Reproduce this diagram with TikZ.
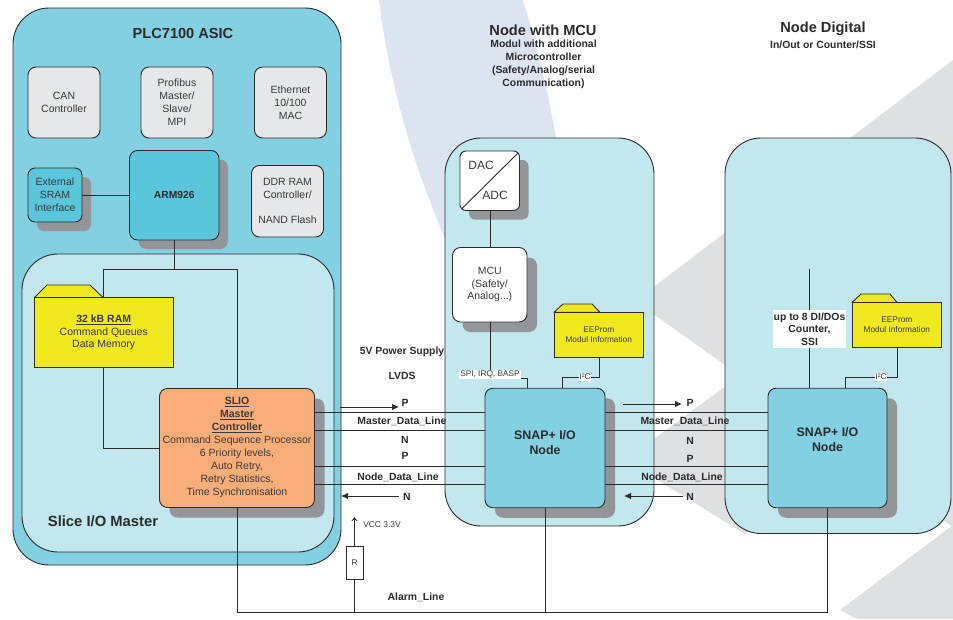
\documentclass[tikz,border=0pt]{standalone}
\usepackage{fontspec}
\setmainfont{Liberation Sans}
\usetikzlibrary{arrows.meta,shadows}
\definecolor{ink}{HTML}{2B2B2D}
\definecolor{txt}{HTML}{3A3A3C}
\definecolor{sgray}{HTML}{939598}
\definecolor{asicblue}{HTML}{82D0E2}
\definecolor{paleblue}{HTML}{C3E7EF}
\definecolor{armblue}{HTML}{5AC6DC}
\definecolor{lightgray}{HTML}{E6E7E8}
\definecolor{folderyellow}{HTML}{F1E920}
\definecolor{slioorange}{HTML}{F9AD78}
\definecolor{lavender}{HTML}{DCE4F2}
\definecolor{chevron}{HTML}{DFE0E2}
\tikzset{
  box/.style={draw=ink,line width=0.9pt,inner sep=0pt,align=center,text=txt},
  bigbox/.style={box,rounded corners=36pt},
  graybox/.style={box,fill=lightgray,rounded corners=8pt,minimum width=72pt,minimum height=71pt,
     font=\fontsize{10.5}{13}\selectfont},
  shade/.style={general shadow={fill=sgray,shadow xshift=#1,shadow yshift=-#1}},
  snapbox/.style={box,fill=asicblue,rounded corners=8pt,minimum height=119.5pt,shade=10pt,
     text=ink,font=\bfseries\fontsize{12.4}{15}\selectfont},
  folder/.style={box,fill=folderyellow},
  tab/.style={draw=ink,line width=0.9pt,fill=folderyellow,line join=round},
  wire/.style={draw=ink,line width=0.9pt},
  arrowline/.style={draw=ink,line width=0.9pt,-{Latex[length=7pt,width=6.5pt]}},
  lab/.style={text=ink,inner sep=0pt,font=\bfseries\fontsize{10.4}{11}\selectfont},
  whitelab/.style={fill=white,text=txt,inner sep=0.8pt,font=\fontsize{8.3}{9}\selectfont},
  title/.style={text=ink,inner sep=0pt,align=center,font=\bfseries\fontsize{14.6}{15}\selectfont},
  subtitle/.style={text=ink,inner sep=0pt,align=center,font=\bfseries\fontsize{10.4}{12.8}\selectfont},
}
\begin{document}
\begin{tikzpicture}[x=1pt,y=-1pt]
\useasboundingbox (0,0) rectangle (953,619);
% background shapes
\fill[lavender] (379,0) .. controls (390,90) and (415,170) .. (450,250) -- (580,250) -- (556,138) .. controls (548,90) and (535,40) .. (523,0) -- cycle;
\fill[chevron] (953,60) -- (635,301) -- (953,527) -- cycle;
\fill[chevron] (760,361) -- (625,460) -- (745,534) -- (800,480) -- cycle;
\fill[chevron] (953,525) -- (840,610) -- (857,619) -- (953,619) -- cycle;

% PLC7100 ASIC
\node[bigbox,fill=asicblue,minimum width=328pt,minimum height=557pt] (asic) at (177,286.5) {};
\node[title,font=\bfseries\fontsize{14.6}{16}\selectfont] (asictitle) at (183,33) {PLC7100 ASIC};
\node[graybox] (can) at (64,102.5) {CAN\\Controller};
\node[graybox] (profibus) at (177,102.5) {Profibus\\Master/\\Slave/\\MPI};
\node[graybox] (ethernet) at (290.5,102.5) {Ethernet\\10/100\\MAC};
\node[graybox,minimum height=71.5pt] (ddr) at (287.5,201.25) {DDR RAM\\Controller/\\[12pt]NAND Flash};
\node[box,fill=armblue,rounded corners=7pt,minimum width=54pt,minimum height=54pt,shade=9pt,
   font=\fontsize{10.5}{13}\selectfont] (sram) at (55,195) {External\\SRAM\\Interface};
\node[box,fill=armblue,rounded corners=8pt,minimum width=89.5pt,minimum height=89.5pt,shade=9pt,
   text=ink,font=\bfseries\fontsize{10.3}{12}\selectfont] (arm) at (174.25,195.25) {ARM926};

% Slice I/O Master
\node[bigbox,fill=paleblue,minimum width=312pt,minimum height=298pt] (slice) at (178,403) {};
\node[text=ink,inner sep=0pt,font=\bfseries\fontsize{14.8}{16}\selectfont] (slicetitle) at (103,521) {Slice I/O Master};
\draw[tab] (34.5,297.5) -- (47,285) -- (90,285) -- (103,297.5) -- cycle;
\node[folder,minimum width=138.5pt,minimum height=69.5pt] (ram) at (103.75,332.25) {};
\node[text=txt,inner sep=0pt,align=center,font=\fontsize{10.5}{12.6}\selectfont] (ramtext) at (103.75,332.5)
   {\textbf{\underline{32 kB RAM}}\\Command Queues\\Data Memory};
\node[box,fill=slioorange,rounded corners=8pt,minimum width=155pt,minimum height=119pt,shade=10pt] (slio) at (237,448) {};
\node[text=txt,inner sep=0pt,align=center,font=\fontsize{10.5}{12.9}\selectfont] (sliotext) at (237,447.5)
   {\textbf{\underline{SLIO}}\\\textbf{\underline{Master}}\\\textbf{\underline{Controller}}\\Command Sequence Processor\\6 Priority levels,\\Auto Retry,\\Retry Statistics,\\Time Synchronisation};

% Node with MCU
\node[bigbox,fill=paleblue,minimum width=209pt,minimum height=388pt] (nodemcu) at (549.5,332) {};
\node[box,fill=white,rounded corners=6pt,minimum width=59.5pt,minimum height=59.5pt,shade=9pt] (dac) at (489.75,180.75) {};
\draw[wire] (462,208.5) -- (518,153);
\node[text=txt,inner sep=0pt,font=\fontsize{12}{14}\selectfont] (dactext) at (481,165) {DAC};
\node[text=txt,inner sep=0pt,font=\fontsize{12}{14}\selectfont] (adctext) at (495,195.5) {ADC};
\node[box,fill=white,rounded corners=8pt,minimum width=74.5pt,minimum height=74.5pt,shade=10pt,
   font=\fontsize{10.5}{12.6}\selectfont] (mcu) at (489.75,284.75) {MCU\\(Safety/\\Analog...)};
\draw[tab] (554,312.3) -- (563,304) -- (592,304) -- (600,312.3) -- cycle;
\node[folder,minimum width=89.5pt,minimum height=44.7pt,font=\fontsize{8.3}{10}\selectfont] (eepa) at (598.75,334.65) {EEProm\\Modul Information};
\node[snapbox,minimum width=120pt] (snapa) at (545,448) {};
\node[text=ink,inner sep=0pt,align=center,font=\bfseries\fontsize{12.4}{15}\selectfont] (snapatext) at (545,442.5) {SNAP+ I/O\\Node};

% Node Digital
\node[bigbox,fill=paleblue,minimum width=226pt,minimum height=395.5pt] (nodedig) at (838,335.75) {};
\draw[tab] (852,302.5) -- (861,294) -- (890,294) -- (897,302.5) -- cycle;
\node[folder,minimum width=89.7pt,minimum height=45pt,font=\fontsize{8.3}{10}\selectfont] (eepb) at (896.85,325) {EEProm\\Modul Information};
\node[snapbox,minimum width=119pt] (snapb) at (827.5,448) {};
\node[text=ink,inner sep=0pt,align=center,font=\bfseries\fontsize{12.4}{15}\selectfont] (snapbtext) at (827.5,439.5) {SNAP+ I/O\\Node};
\coordinate (digitop) at (809.7,269);

% R and VCC
\node[box,fill=white,minimum width=17pt,minimum height=33pt,font=\fontsize{8.3}{10}\selectfont] (res) at (354.5,563) {R};
\coordinate (vcc) at (354.5,517);

% free ends of the LVDS arrows
\coordinate (pa1) at (340,407); \coordinate (pa2) at (399,407);
\coordinate (pb1) at (623,404); \coordinate (pb2) at (682,404);
\coordinate (na1) at (399,496); \coordinate (na2) at (341,496);
\coordinate (nb1) at (683,496); \coordinate (nb2) at (624,496);

% connectors
\draw[wire] (sram.east) -- (arm.west |- sram.east);
\draw[wire] (arm.south) -- (174.25,269);
\draw[wire] (ram.north) -- (103.75,269) -- (237,269) -- (slio.north);
\draw[wire] (ram.south) -- (103.75,448) -- (slio.west);
\draw[wire] (dac.south -| 490,0) -- (mcu.north -| 490,0);
\draw[wire] (mcu.south -| 490,0) -- (490,378) -- (527,378) -- (snapa.north -| 527,0);
\draw[wire] (eepa.south -| 599,0) -- (599,377) -- (562,377) -- (snapa.north -| 562,0);
\draw[wire] (eepb.south -| 897,0) -- (897,377) -- (845,377) -- (snapb.north -| 845,0);
\draw[wire] (digitop) -- (snapb.north -| 809.7,0);
\foreach \ly in {412.5,430,466.5,484.5}{
  \draw[wire] (slio.east |- 0,\ly) -- (snapa.west |- 0,\ly);
  \draw[wire] (snapa.east |- 0,\ly) -- (snapb.west |- 0,\ly);
}
\draw[arrowline] (pa1) -- (pa2);
\draw[arrowline] (pb1) -- (pb2);
\draw[arrowline] (na1) -- (na2);
\draw[arrowline] (nb1) -- (nb2);
\draw[wire,-{To[length=4pt,width=6pt]}] (res.north) -- (vcc);
\draw[wire] (res.south) -- (354.5,612);
\draw[wire] (slio.south) -- (237,612) -- (827.5,612) -- (snapb.south);
\draw[wire] (snapa.south) -- (545,612);

% labels
\node[title] (mcutitle) at (543,30) {Node with MCU};
\node[subtitle] (mcusub) at (543.5,64.5) {Modul with additional\\Microcontroller\\(Safety/Analog/serial\\Communication)};
\node[title] (digtitle) at (823,29) {Node Digital};
\node[subtitle] (digsub) at (823,44.5) {In/Out or Counter/SSI};
\node[lab] (power) at (402,351.5) {5V Power Supply};
\node[lab] (lvds) at (402,376) {LVDS};
\node[lab] (pa) at (405,403) {P};
\node[lab] (mdla) at (402,421) {Master\_Data\_Line};
\node[lab] (na) at (405,440) {N};
\node[lab] (pc) at (405,456) {P};
\node[lab] (ndla) at (398,477.5) {Node\_Data\_Line};
\node[lab] (nc) at (407,496.5) {N};
\node[lab] (pb) at (690,403) {P};
\node[lab] (mdlb) at (685,421) {Master\_Data\_Line};
\node[lab] (nm) at (690,440.5) {N};
\node[lab] (pd) at (690,459) {P};
\node[lab] (ndlb) at (682,477) {Node\_Data\_Line};
\node[lab] (nd) at (690,496.5) {N};
\node[lab] (alarm) at (416,597) {Alarm\_Line};
\node[text=txt,inner sep=0pt,font=\fontsize{8.4}{9}\selectfont] (vcctext) at (382,524.5) {VCC 3.3V};
\node[whitelab] (spi) at (490,374.5) {SPI, IRQ, BASP};
\node[whitelab] (iica) at (585,377) {I²C};
\node[whitelab] (iicb) at (881,377) {I²C};
\node[fill=white,text=ink,inner sep=0pt,align=center,minimum width=73pt,minimum height=38pt,
   font=\bfseries\fontsize{10.4}{12.5}\selectfont] (dilabel) at (809.5,329) {up to 8 DI/DOs\\Counter,\\SSI};
\end{tikzpicture}
\end{document}
